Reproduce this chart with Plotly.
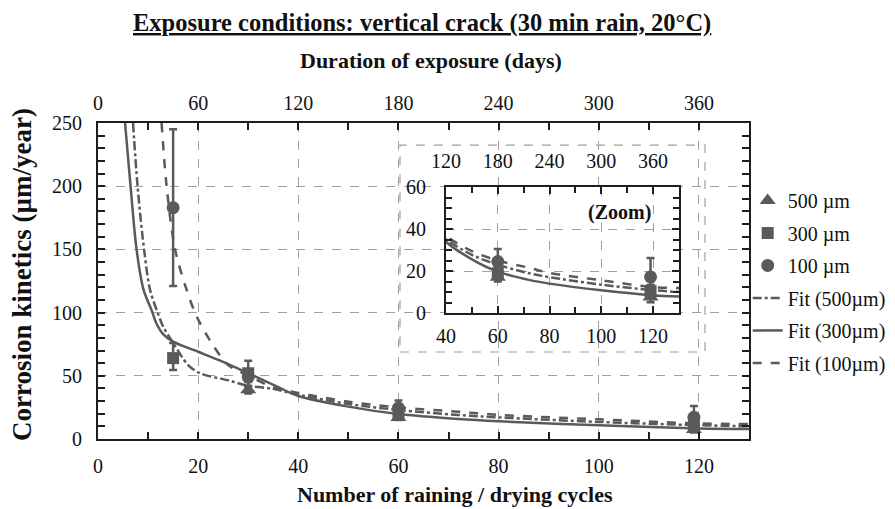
import plotly.graph_objects as go

# ---------------- data ----------------
cycles_500 = [30, 60, 119]
rate_500 = [39, 17, 7.6]
err_500_plus = [3, 2, 2]
err_500_minus = [3, 2, 2.5]

cycles_300 = [15, 30, 60, 119]
rate_300 = [64, 52, 19, 10.4]
err_300_plus = [12, 10, 3, 3]
err_300_minus = [9.5, 10, 3, 3]

cycles_100 = [15, 30, 60, 119]
rate_100 = [183, 49, 24.5, 17.2]
err_100_plus = [62, 4, 6, 9]
err_100_minus = [62, 4, 4, 4]

fit500_x = [7, 7.9, 9.2, 10.4, 12, 13, 15, 18, 20.4, 26.4, 30, 34.4, 40, 50, 60, 72, 80, 100, 120, 130]
fit500_y = [250, 200, 150, 118, 99, 89, 76, 58.5, 52, 46, 42, 40, 35, 27.7, 23, 19, 17.1, 13.5, 10.9, 10]

fit300_x = [5.4, 6.5, 7.7, 9.1, 10.7, 11.6, 13, 15, 20, 25, 30, 36, 40, 50, 60, 72, 80, 100, 120, 130]
fit300_y = [250, 200, 150, 118, 102, 92, 83, 77, 69, 61, 52, 41, 34, 25.6, 19.7, 15.8, 14, 10.8, 8.4, 7.9]

fit100_x = [12.7, 13.7, 15.4, 17.7, 19.7, 23, 26, 29, 35, 40, 50, 60, 72, 80, 100, 120, 130]
fit100_y = [250, 200, 150, 118, 97, 74, 58.5, 52, 41, 36.5, 29.5, 25, 21.6, 19.1, 15.6, 12.3, 11.9]

x_ticks = [0, 20, 40, 60, 80, 100, 120]
y_ticks = [0, 50, 100, 150, 200, 250]
day_ticks = [0, 60, 120, 180, 240, 300, 360]
inset_x_ticks = [40, 60, 80, 100, 120]
inset_y_ticks = [0, 20, 40, 60]
inset_day_ticks = [120, 180, 240, 300, 360]

# ---------------- style ----------------
GRAY = "#5a5a5a"
AX = "#1e1e1e"
GRID = "#a0a0a0"
FONT = "Liberation Serif"

fig = go.Figure()


def add_series(xa, ya, show):
    kw = dict(xaxis=xa, yaxis=ya, showlegend=show)
    fig.add_trace(go.Scatter(x=cycles_500, y=rate_500, mode="markers", name="500 µm",
                             legendgroup="g1",
                             marker=dict(symbol="triangle-up", size=14, color=GRAY),
                             error_y=dict(type="data", array=err_500_plus, arrayminus=err_500_minus,
                                          color=GRAY, thickness=2.5, width=4), **kw))
    fig.add_trace(go.Scatter(x=cycles_300, y=rate_300, mode="markers", name="300 µm",
                             legendgroup="g2",
                             marker=dict(symbol="square", size=12, color=GRAY),
                             error_y=dict(type="data", array=err_300_plus, arrayminus=err_300_minus,
                                          color=GRAY, thickness=2.5, width=4), **kw))
    fig.add_trace(go.Scatter(x=cycles_100, y=rate_100, mode="markers", name="100 µm",
                             legendgroup="g3",
                             marker=dict(symbol="circle", size=13, color=GRAY),
                             error_y=dict(type="data", array=err_100_plus, arrayminus=err_100_minus,
                                          color=GRAY, thickness=2.5, width=4), **kw))
    fig.add_trace(go.Scatter(x=fit500_x, y=fit500_y, mode="lines", name="Fit (500µm)",
                             legendgroup="g4",
                             line=dict(color=GRAY, width=2.5, dash="dashdot", shape="spline", smoothing=0.9), **kw))
    fig.add_trace(go.Scatter(x=fit300_x, y=fit300_y, mode="lines", name="Fit (300µm)",
                             legendgroup="g5",
                             line=dict(color=GRAY, width=2.5, dash="solid", shape="spline", smoothing=0.9), **kw))
    fig.add_trace(go.Scatter(x=fit100_x, y=fit100_y, mode="lines", name="Fit (100µm)",
                             legendgroup="g6",
                             line=dict(color=GRAY, width=2.5, dash="dash", shape="spline", smoothing=0.9), **kw))


add_series("x", "y", True)
add_series("x3", "y3", False)

# invisible traces so the top (days) axes render
fig.add_trace(go.Scatter(x=[0, 390], y=[None, None], xaxis="x2", yaxis="y", showlegend=False, hoverinfo="skip"))
fig.add_trace(go.Scatter(x=[120, 390], y=[None, None], xaxis="x4", yaxis="y3", showlegend=False, hoverinfo="skip"))

tickfont = dict(family=FONT, size=20, color="#111")

common = dict(showline=True, linecolor=AX, linewidth=2, ticks="inside", tickcolor=AX,
              ticklen=7, tickwidth=1.5, zeroline=False, tickfont=tickfont,
              showgrid=True, gridcolor=GRID, griddash="dash", gridwidth=1)

IX0, IX1 = 0.5346, 0.8925
IY0, IY1 = 0.3987, 0.797

# the page body adds an 8px offset, so the figure is 8px smaller than the window
fig.update_layout(
    width=887, height=501,
    margin=dict(l=90, r=146, t=115, b=70, autoexpand=False),
    paper_bgcolor="white", plot_bgcolor="white",
    font=dict(family=FONT, color="#111"),
    xaxis=dict(range=[0, 130], tickvals=x_ticks, domain=[0, 1], anchor="y", mirror=True,
               minor=dict(dtick=10, ticks="inside", ticklen=7, tickcolor=AX, showgrid=False),
               ticklabelstandoff=8, **common),
    yaxis=dict(range=[0, 250], tickvals=y_ticks, domain=[0, 1], anchor="x", mirror="ticks",
               minor=dict(dtick=10, ticks="inside", ticklen=7, tickcolor=AX, showgrid=False),
               ticklabelstandoff=10, **common),
    xaxis2=dict(range=[0, 390], tickvals=day_ticks, overlaying="x", side="top", anchor="y",
                showline=False, ticks="inside", tickcolor=AX, ticklen=7, tickwidth=1.5,
                showgrid=False, zeroline=False, tickfont=tickfont, ticklabelstandoff=8,
                minor=dict(dtick=30, ticks="inside", ticklen=7, tickcolor=AX)),
    xaxis3=dict(range=[40, 130], tickvals=inset_x_ticks, domain=[IX0, IX1], anchor="y3", mirror="ticks",
                minor=dict(dtick=10, ticks="inside", ticklen=6, tickcolor=AX, showgrid=False),
                ticklabelstandoff=4, **common),
    yaxis3=dict(range=[0, 60], tickvals=inset_y_ticks, domain=[IY0, IY1], anchor="x3", mirror="ticks",
                minor=dict(dtick=5, ticks="inside", ticklen=6, tickcolor=AX, showgrid=False),
                ticklabelstandoff=14, **common),
    xaxis4=dict(range=[120, 390], tickvals=inset_day_ticks, overlaying="x3", side="top", anchor="y3",
                showline=False, ticks="", showgrid=False, zeroline=False, tickfont=tickfont,
                ticklabelstandoff=14),
    legend=dict(x=0.998, y=0.8167, xanchor="left", yanchor="top", bgcolor="rgba(0,0,0,0)",
                font=dict(family=FONT, size=20, color="#111"), tracegroupgap=3.5,
                traceorder="grouped", itemwidth=30),
    showlegend=True,
)

# inset surrounding dashed box (white fill hides main gridlines)
fig.add_shape(type="rect", xref="x domain", yref="y domain",
              x0=0.4639, x1=0.9324, y0=0.2753, y1=0.930,
              line=dict(color=GRID, width=1.2, dash="dash"), fillcolor="white", layer="below")


def px_x(xs):
    return (xs - 98) / 651


def px_y(ys):
    return (439 - ys) / 316


ann = dict(xref="paper", yref="paper", showarrow=False, xanchor="center", yanchor="middle")
fig.add_annotation(text="<u><b>Exposure conditions: vertical crack (30 min rain, 20°C)</b></u>",
                   x=px_x(422), y=px_y(23), font=dict(family=FONT, size=24.5, color="#111"), **ann)
fig.add_annotation(text="<b>Duration of exposure (days)</b>",
                   x=px_x(431), y=px_y(60), font=dict(family=FONT, size=22, color="#111"), **ann)
fig.add_annotation(text="<b>Number of raining / drying cycles</b>",
                   x=px_x(455), y=px_y(494), font=dict(family=FONT, size=22, color="#111"), **ann)
fig.add_annotation(text="<b>Corrosion kinetics (µm/year)</b>", textangle=-90,
                   x=px_x(22), y=px_y(275), font=dict(family=FONT, size=27, color="#111"), **ann)
fig.add_annotation(text="<b>(Zoom)</b>",
                   x=px_x(619), y=px_y(212), font=dict(family=FONT, size=20, color="#111"), **ann)

fig.write_html("out.html")
